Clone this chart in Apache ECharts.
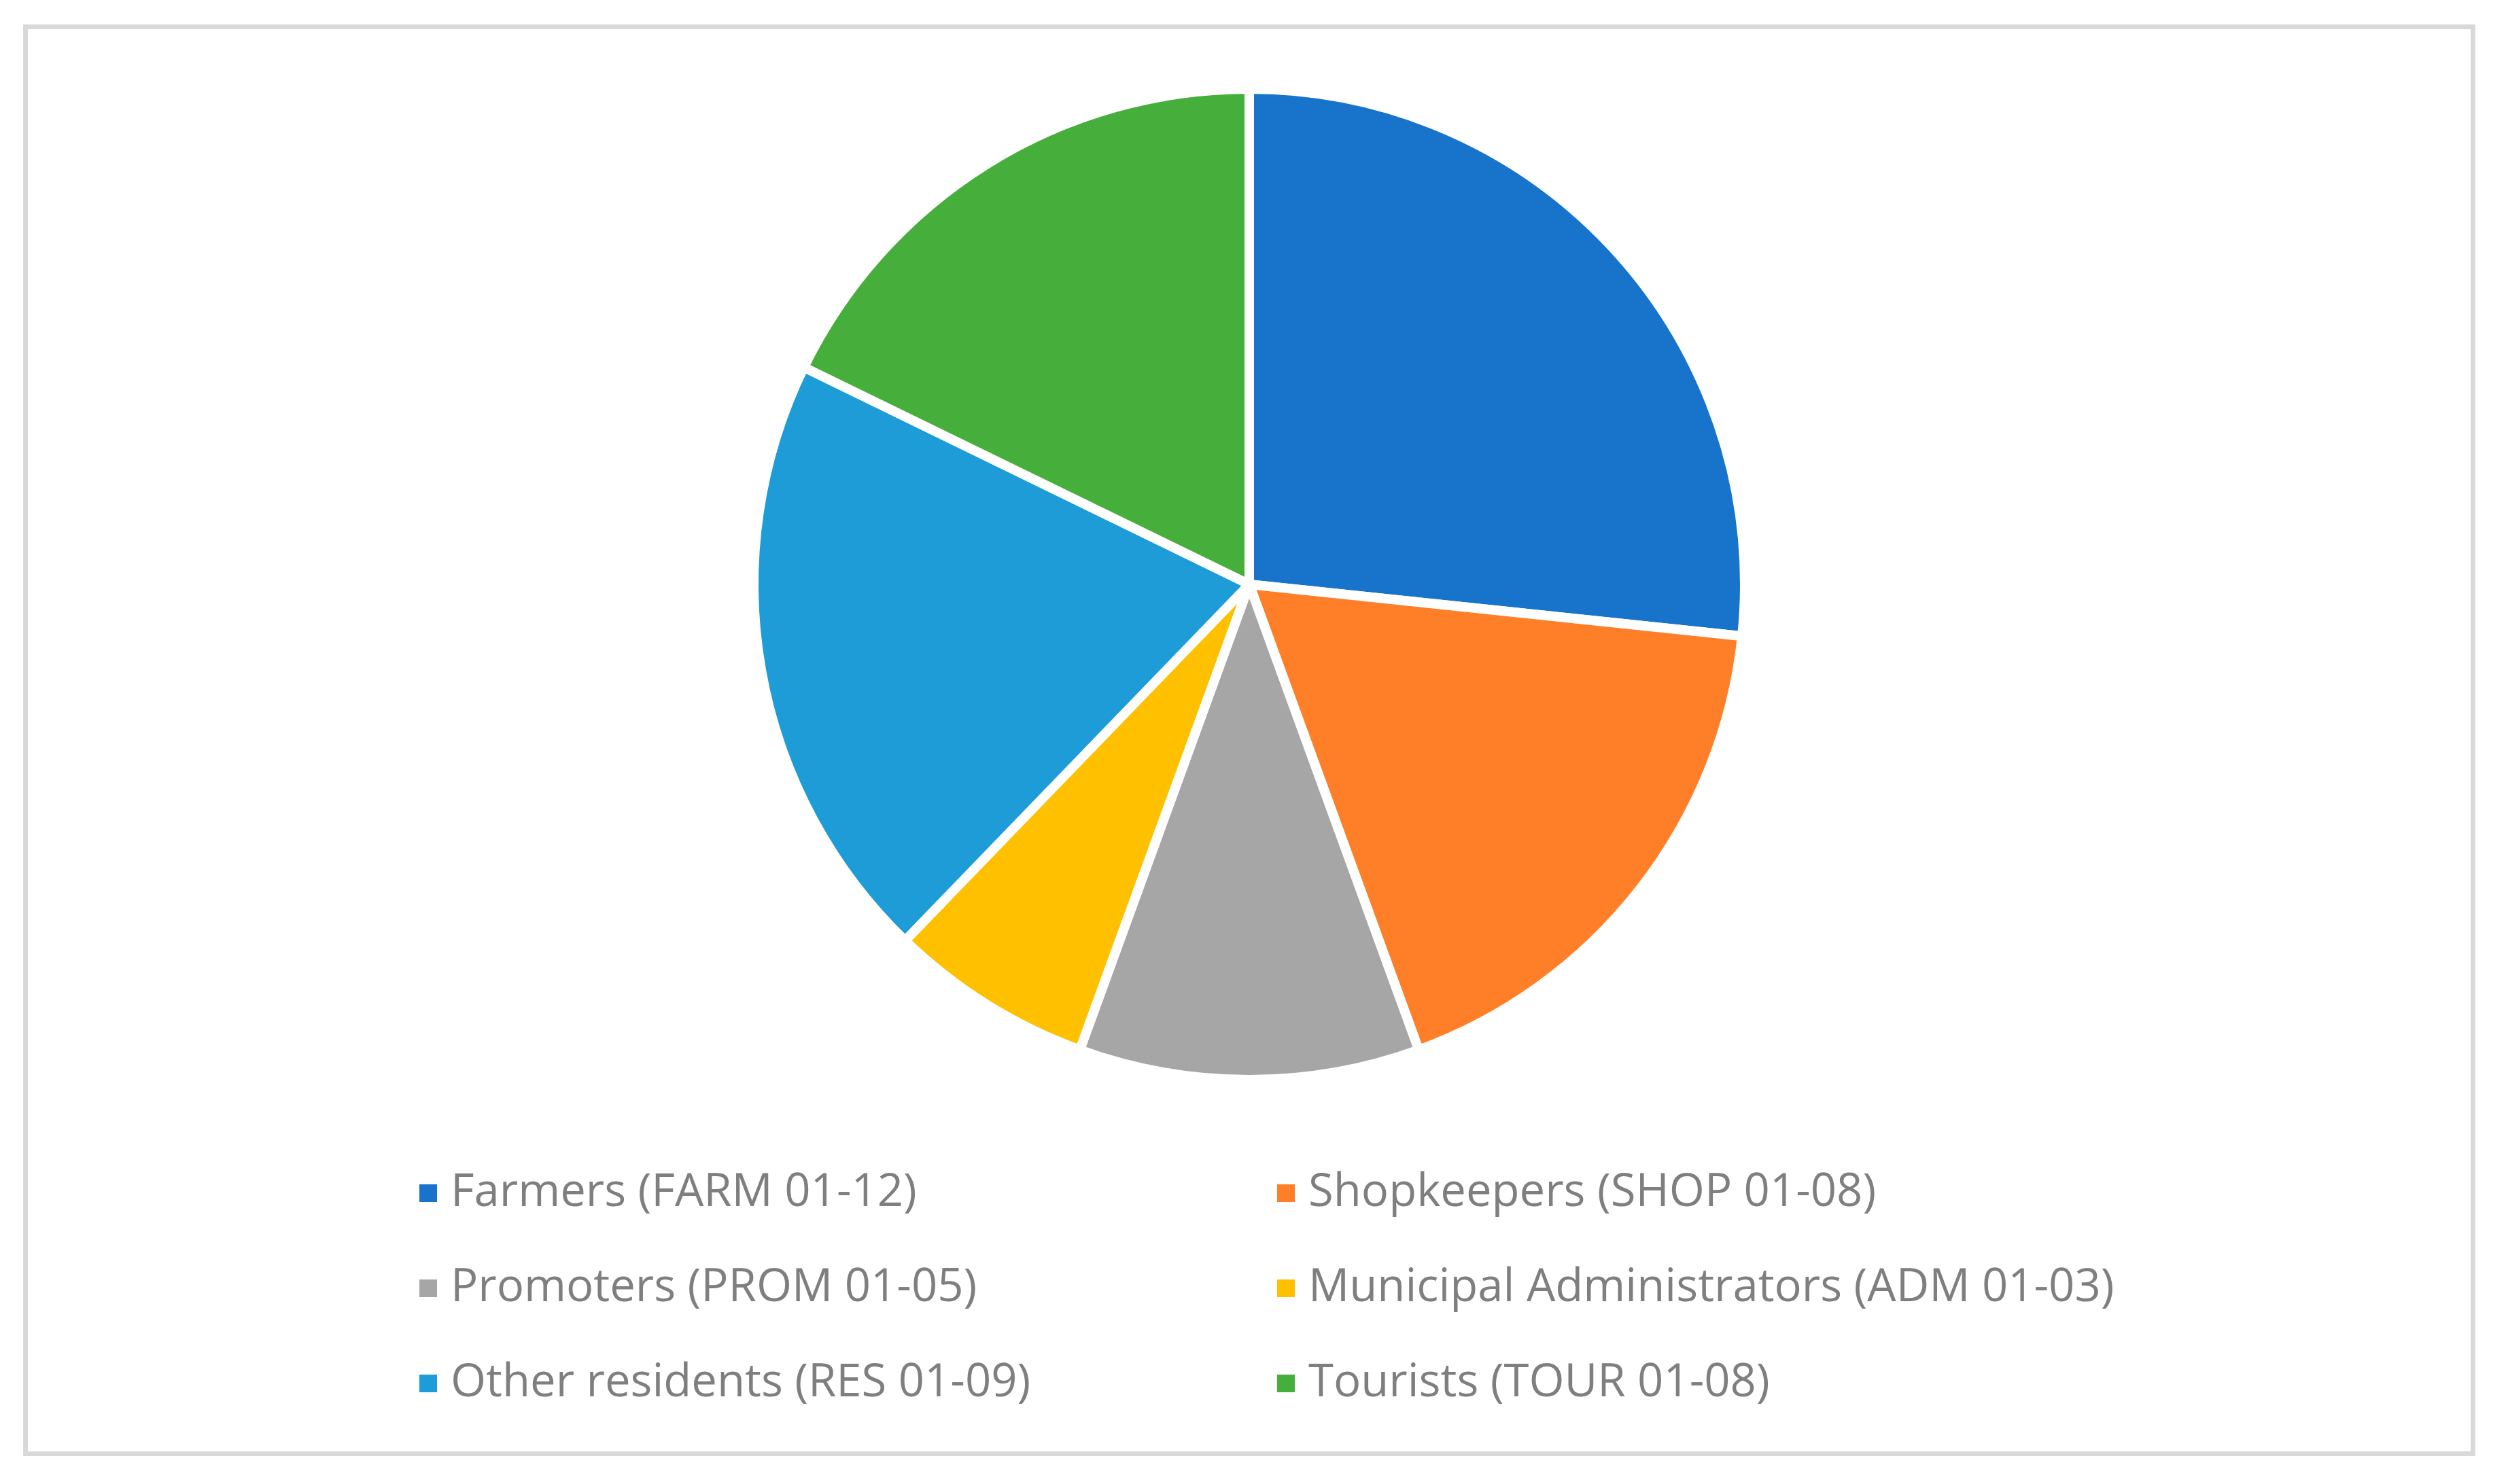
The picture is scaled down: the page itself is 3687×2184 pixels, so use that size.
<!DOCTYPE html>
<html>
<head>
<meta charset="utf-8">
<script src="https://cdn.jsdelivr.net/npm/echarts@6/dist/echarts.min.js"></script>
<style>
html,body{margin:0;padding:0;background:#fff;}
#frame{position:absolute;left:34px;top:36px;width:3594px;height:2093px;border:7px solid #d9d9d9;}
#chart{position:absolute;left:0;top:0;width:3687px;height:2184px;}
</style>
</head>
<body>
<div id="frame"></div>
<div id="chart"></div>
<script>
const categories = [
  'Farmers (FARM 01-12)',
  'Shopkeepers (SHOP 01-08)',
  'Promoters (PROM 01-05)',
  'Municipal Administrators (ADM 01-03)',
  'Other residents (RES 01-09)',
  'Tourists (TOUR 01-08)'
];
const values = [12, 8, 5, 3, 9, 8];
const colors = ['#1874CA', '#FE7F28', '#A6A6A6', '#FFC000', '#1D9CD8', '#46AF3C'];
const legendCol1 = [categories[0], categories[2], categories[4]];
const legendCol2 = [categories[1], categories[3], categories[5]];

const chart = echarts.init(document.getElementById('chart'), null, {renderer: 'canvas'});
const legendText = {
  color: '#7F7F7F',
  fontFamily: 'Open Sans',
  fontSize: 67,
  lineHeight: 80,
  padding: [0, 0, 0, 14]
};
chart.setOption({
  animation: false,
  backgroundColor: 'transparent',
  color: colors,
  legend: [
    {
      orient: 'vertical', left: 610, top: 1711,
      itemWidth: 28, itemHeight: 28, itemGap: 60, icon: 'rect',
      data: legendCol1, textStyle: legendText, selectedMode: false
    },
    {
      orient: 'vertical', left: 1872, top: 1711,
      itemWidth: 28, itemHeight: 28, itemGap: 60, icon: 'rect',
      data: legendCol2, textStyle: legendText, selectedMode: false
    }
  ],
  series: [{
    type: 'pie',
    center: [1838, 860],
    radius: [0, 729],
    startAngle: 90,
    clockwise: true,
    label: {show: false},
    labelLine: {show: false},
    itemStyle: {borderColor: '#ffffff', borderWidth: 14},
    emphasis: {disabled: true},
    data: categories.map((c, i) => ({name: c, value: values[i]}))
  }]
});
</script>
</body>
</html>
